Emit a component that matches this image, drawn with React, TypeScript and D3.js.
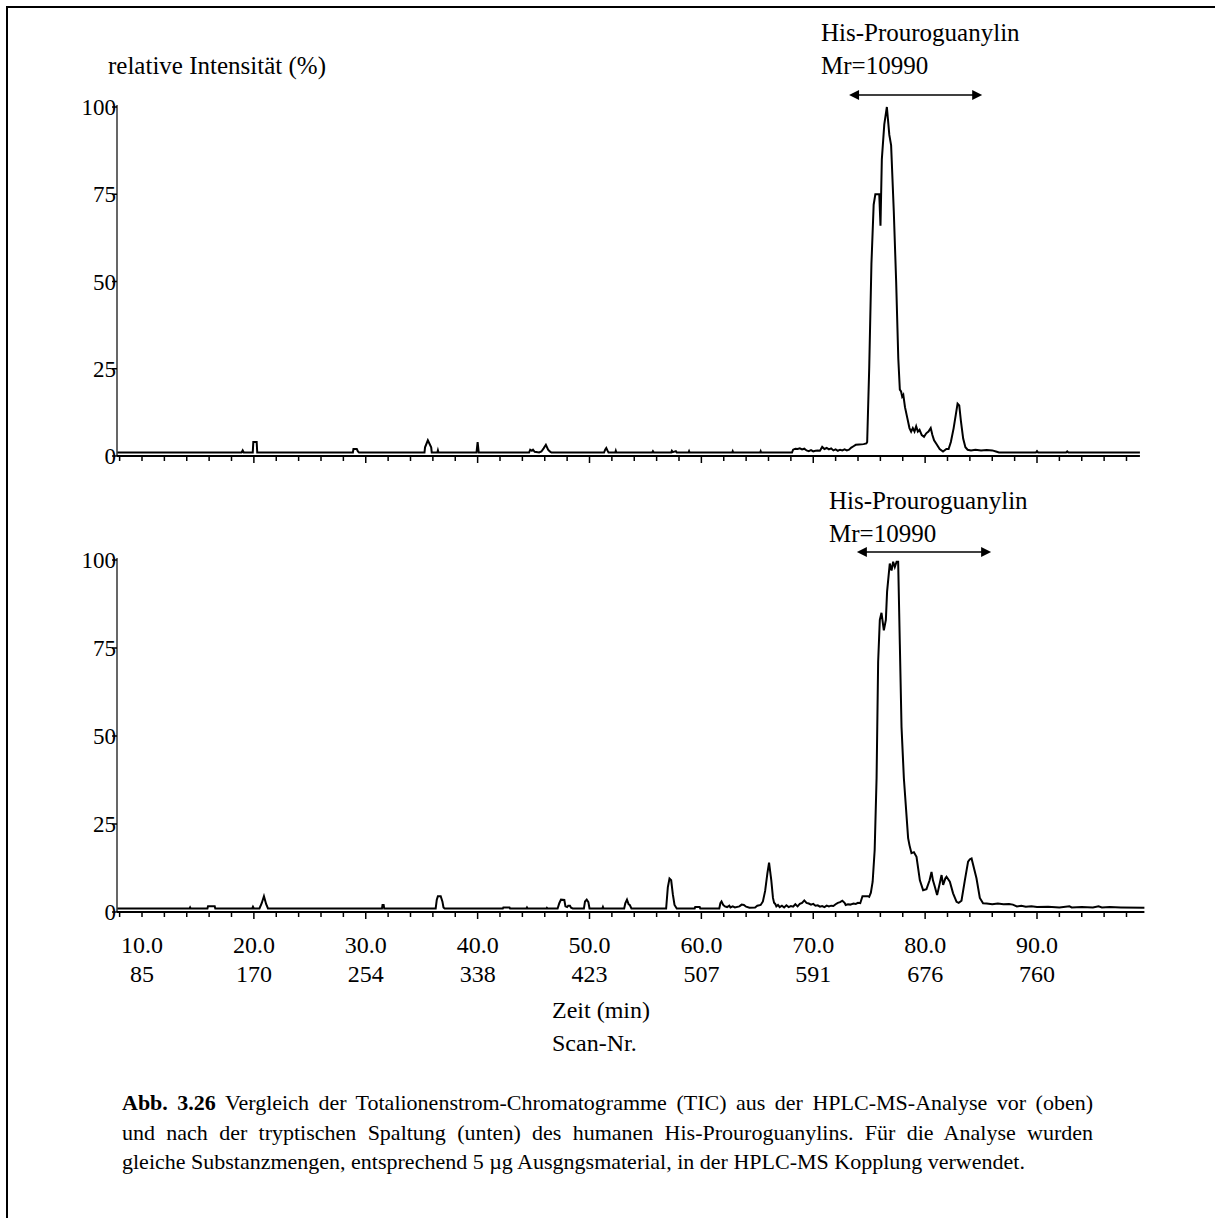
import { useEffect, useRef } from "react";
import * as d3 from "d3";

const W = 1215;
const H = 1218;
const FONT = '"Liberation Serif", "Times New Roman", serif';

// axis labels
const yTicks = [0, 25, 50, 75, 100];
const timeTicks = [10, 20, 30, 40, 50, 60, 70, 80, 90];
const timeLabels = ["10.0", "20.0", "30.0", "40.0", "50.0", "60.0", "70.0", "80.0", "90.0"];
const scanLabels = ["85", "170", "254", "338", "423", "507", "591", "676", "760"];

// TIC before digestion: [time (min), relative intensity (%)]
const topTrace: [number, number][] = [
  [7.8, 1], [18.9, 1], [19.0, 1.6], [19.1, 1], [19.9, 1], [19.95, 4], [20.25, 4], [20.3, 1],
  [28.85, 1], [28.9, 2], [29.2, 2], [29.3, 1.3], [29.4, 1],
  [35.25, 1], [35.3, 2.5], [35.55, 4.5], [35.85, 2.5], [35.9, 1], [36.4, 1], [36.45, 1.6], [36.5, 1],
  [39.9, 1], [40.0, 4], [40.1, 1],
  [44.6, 1], [44.7, 1.8], [44.85, 1.5], [44.95, 1.8], [45.1, 1.2], [45.5, 1], [45.7, 1.3], [45.9, 2.2],
  [46.1, 3.2], [46.3, 1.8], [46.45, 1.3], [46.6, 1],
  [51.3, 1], [51.4, 1.8], [51.5, 2.3], [51.6, 1.6], [51.7, 1], [52.3, 1], [52.35, 1.5], [52.4, 1],
  [55.6, 1], [55.67, 1.4], [55.75, 1], [57.3, 1], [57.36, 1.5], [57.45, 1.1], [57.72, 1.4], [57.8, 1],
  [58.85, 1], [58.9, 1.4], [58.95, 1], [62.75, 1], [62.8, 1.4], [62.85, 1], [65.25, 1], [65.3, 1.4], [65.35, 1],
  [68.1, 1], [68.2, 1.8], [68.4, 2.1], [68.6, 2], [68.8, 2.2], [69.0, 1.9], [69.2, 2.1], [69.4, 1.6],
  [69.6, 1.4], [69.8, 1.7], [70.0, 1.3], [70.2, 1.5], [70.4, 1.6], [70.6, 1.5], [70.8, 2.6], [71.0, 2],
  [71.2, 2.3], [71.4, 1.9], [71.6, 2.2], [71.8, 1.6], [72.0, 1.9], [72.2, 1.5], [72.4, 1.8], [72.6, 1.6],
  [72.8, 1.9], [73.0, 1.6], [73.2, 1.8], [73.4, 2.4], [73.6, 2.8], [73.8, 3.2], [74.1, 3.3], [74.5, 3.4],
  [74.75, 3.6], [74.82, 4], [75.0, 25], [75.2, 55], [75.4, 72], [75.55, 75], [75.9, 75], [76.01, 66],
  [76.13, 85], [76.35, 95], [76.58, 100], [76.8, 92], [76.96, 89], [77.2, 70], [77.41, 50], [77.6, 28],
  [77.74, 19], [77.85, 18.5], [77.95, 17], [78.05, 17.5], [78.2, 14], [78.4, 11], [78.6, 8], [78.75, 7],
  [78.9, 8], [79.05, 7], [79.2, 8.5], [79.35, 7], [79.5, 7.5], [79.7, 6], [79.9, 5.5], [80.1, 6.5],
  [80.3, 7], [80.5, 8], [80.65, 6], [80.8, 4.5], [81.0, 3.5], [81.3, 2], [81.6, 1.3], [81.9, 2],
  [82.1, 2], [82.3, 4], [82.55, 8], [82.75, 12], [82.9, 15], [83.05, 14.5], [83.2, 10], [83.4, 5],
  [83.6, 2.5], [83.8, 1.8], [84.1, 1.6], [84.5, 1.8], [85.0, 1.6], [85.5, 1.7], [86.0, 1.6], [86.4, 1.2],
  [86.6, 1], [89.9, 1], [90.0, 1.4], [90.1, 1], [92.6, 1], [92.7, 1.3], [92.8, 1], [99.2, 1],
];

// TIC after tryptic digestion
const bottomTrace: [number, number][] = [
  [7.8, 1], [14.25, 1], [14.3, 1.3], [14.35, 1], [15.85, 1], [15.9, 1.6], [16.5, 1.6], [16.55, 1],
  [19.85, 1], [19.92, 1.5], [20.0, 1], [20.5, 1], [20.7, 2.5], [20.9, 4.5], [21.1, 2.2], [21.26, 1],
  [31.45, 1], [31.5, 2], [31.6, 2], [31.65, 1],
  [36.25, 1], [36.35, 3.5], [36.45, 4.5], [36.7, 4.5], [36.85, 3], [36.95, 1.3], [37.05, 1],
  [42.25, 1], [42.3, 1.3], [42.85, 1.3], [42.9, 1], [44.35, 1], [44.41, 1.3], [44.47, 1],
  [46.15, 1], [46.19, 1.2], [46.25, 1], [47.15, 1], [47.3, 2.5], [47.45, 3.5], [47.75, 3.4], [47.85, 1.6],
  [48.0, 1.4], [48.1, 1.8], [48.25, 1.8], [48.35, 1.2], [48.5, 1], [49.5, 1], [49.6, 3], [49.75, 3.5],
  [49.9, 2.8], [50.0, 1], [51.15, 1], [51.2, 1.4], [51.25, 1],
  [53.1, 1], [53.2, 2.5], [53.35, 3.5], [53.5, 2.2], [53.6, 2], [53.75, 1],
  [56.85, 1], [57.0, 7], [57.15, 9.5], [57.3, 9], [57.45, 5], [57.6, 2], [57.8, 1],
  [59.4, 1], [59.45, 1.4], [59.85, 1.4], [59.9, 1], [61.6, 1], [61.7, 2.5], [61.8, 3], [61.95, 2],
  [62.1, 1.6], [62.3, 1.4], [62.5, 1.8], [62.6, 1.3], [62.8, 1.6], [63.0, 1.3], [63.4, 1.6], [63.6, 2.1],
  [63.8, 2], [64.0, 1.5], [64.3, 1.2], [64.8, 1.3], [65.0, 1.8], [65.3, 2], [65.5, 3], [65.7, 6],
  [65.9, 11], [66.05, 14], [66.25, 9], [66.4, 4], [66.5, 2.6], [66.6, 2.3], [66.7, 1.6], [66.85, 2],
  [67.0, 1.4], [67.2, 1.8], [67.4, 1.3], [67.6, 1.9], [67.8, 1.4], [68.0, 1.7], [68.2, 1.5], [68.4, 2.2],
  [68.6, 1.6], [68.8, 2.3], [69.0, 2.6], [69.2, 3.3], [69.4, 2.6], [69.6, 2.4], [69.8, 2.1], [70.0, 2.3],
  [70.2, 1.8], [70.4, 1.9], [70.6, 1.5], [70.8, 1.7], [71.0, 1.4], [71.2, 1.8], [71.4, 1.6], [71.6, 1.8],
  [71.8, 1.7], [72.0, 2.2], [72.2, 2.6], [72.4, 2.8], [72.6, 3.2], [72.8, 2.6], [72.9, 2], [73.1, 2.2],
  [73.3, 2.1], [73.6, 2.4], [73.8, 2.3], [74.0, 2.6], [74.2, 2.5], [74.4, 4.5], [74.9, 4.5], [75.0, 4.3],
  [75.15, 5.5], [75.31, 8.6], [75.49, 17.6], [75.66, 38], [75.8, 71], [75.95, 83], [76.1, 85], [76.31, 80],
  [76.49, 83], [76.6, 91], [76.84, 99], [77.0, 97], [77.14, 99.5], [77.29, 98], [77.45, 99.5], [77.59, 99.5],
  [77.74, 76], [77.89, 52.6], [78.1, 38], [78.48, 21], [78.6, 19], [78.78, 16.7], [79.0, 17], [79.23, 15.7],
  [79.53, 9], [79.82, 6.2], [80.12, 6.5], [80.4, 9], [80.57, 11.4], [80.7, 9], [80.87, 7.2], [81.07, 4.8],
  [81.3, 8], [81.47, 10.5], [81.61, 7.7], [81.8, 9.5], [81.91, 10], [82.21, 8.6], [82.5, 5.3], [82.81, 2.9],
  [83.0, 2.6], [83.25, 3.2], [83.55, 9], [83.84, 14.3], [84.0, 15], [84.15, 15.2], [84.59, 9.6], [84.89, 4],
  [85.18, 2.5], [85.5, 2.4], [86.0, 2.2], [86.5, 2.4], [87.0, 2.2], [87.5, 2.3], [87.84, 2.1], [88.2, 1.6],
  [88.6, 1.8], [89.0, 1.5], [89.5, 1.6], [90.0, 1.4], [91.0, 1.5], [92.0, 1.3], [92.9, 1.6], [93.1, 1.3],
  [94.0, 1.4], [95.0, 1.3], [95.5, 1.6], [95.8, 1.3], [96.5, 1.4], [97.5, 1.3], [99.6, 1.2],
];

// retention window of His-Prouroguanylin (min)
const peakRangeTop = [73.2, 85.1];
const peakRangeBottom = [73.9, 85.9];

const captionLines = [
  { bold: "Abb. 3.26", text: " Vergleich der Totalionenstrom-Chromatogramme (TIC) aus der HPLC-MS-Analyse vor (oben)", justify: true },
  { bold: "", text: "und nach der tryptischen Spaltung (unten) des humanen His-Prouroguanylins. Für die Analyse wurden", justify: true },
  { bold: "", text: "gleiche Substanzmengen, entsprechend 5 µg Ausgngsmaterial, in der HPLC-MS Kopplung verwendet.", justify: false },
];

const x = d3.scaleLinear().domain([10, 90]).range([142, 1037]);
const minorTicks = d3.range(8, 99, 2);

const panels = [
  { trace: topTrace, y: d3.scaleLinear().domain([0, 100]).range([456, 107]), end: 99.2, range: peakRangeTop, labelX: 821, labelY: 41, arrowY: 95 },
  { trace: bottomTrace, y: d3.scaleLinear().domain([0, 100]).range([912, 560]), end: 99.6, range: peakRangeBottom, labelX: 829, labelY: 509, arrowY: 552 },
];

function Panel({ p }) {
  const line = d3.line<[number, number]>().x(d => x(d[0])).y(d => p.y(d[1]));
  const y0 = p.y(0);
  const x0 = 117;
  const xa = x(p.range[0]);
  const xb = x(p.range[1]);
  return (
    <g>
      <line x1={x0} x2={x0} y1={p.y(100) - 2} y2={y0} stroke="#000" strokeWidth={1.2} />
      {yTicks.map(t => (
        <g key={t}>
          <line x1={x0 - 5} x2={x0} y1={p.y(t)} y2={p.y(t)} stroke="#000" strokeWidth={1.5} />
          <text x={x0 - 1} y={p.y(t)} dy="0.35em" textAnchor="end" fontSize={23}>{t}</text>
        </g>
      ))}
      <line x1={x0} x2={x(p.end)} y1={y0} y2={y0} stroke="#000" strokeWidth={1.8} />
      {minorTicks.map(t => (
        <line key={t} x1={x(t)} x2={x(t)} y1={y0} y2={y0 + (t % 10 === 0 && t > 10 ? 7 : 5)} stroke="#000" strokeWidth={1.5} />
      ))}
      <path d={line(p.trace) || ""} fill="none" stroke="#000" strokeWidth={2} strokeLinejoin="miter" />
      <text x={p.labelX} y={p.labelY} fontSize={25}>His-Prouroguanylin</text>
      <text x={p.labelX} y={p.labelY + 33} fontSize={25}>Mr=10990</text>
      <line x1={xa + 8} x2={xb - 8} y1={p.arrowY} y2={p.arrowY} stroke="#000" strokeWidth={1.5} />
      <path d={`M${xa},${p.arrowY}L${xa + 10},${p.arrowY - 5}L${xa + 10},${p.arrowY + 5}Z`} fill="#000" />
      <path d={`M${xb},${p.arrowY}L${xb - 10},${p.arrowY - 5}L${xb - 10},${p.arrowY + 5}Z`} fill="#000" />
    </g>
  );
}

export default function App() {
  const capRef = useRef<SVGGElement>(null);

  useEffect(() => {
    const target = 1093 - 122;
    d3.select(capRef.current).selectAll<SVGTextElement, unknown>("text").each(function () {
      const el = this;
      if (el.getAttribute("data-justify") !== "1") return;
      const natural = el.getComputedTextLength();
      const gaps = (el.textContent || "").split(" ").length - 1;
      if (gaps > 0 && natural < target) {
        d3.select(el).attr("word-spacing", (target - natural) / gaps);
      }
    });
  }, []);

  return (
    <svg width={W} height={H} style={{ position: "absolute", left: 0, top: 0, background: "#fff" }} fontFamily={FONT}>
      <rect width={W} height={H} fill="#fff" />
      <line x1={6} x2={W} y1={7} y2={7} stroke="#000" strokeWidth={2} />
      <line x1={7} x2={7} y1={6} y2={H} stroke="#000" strokeWidth={2} />

      <text x={108} y={74} fontSize={25}>relative Intensität (%)</text>

      {panels.map((p, i) => <Panel key={i} p={p} />)}

      {timeTicks.map((t, i) => (
        <g key={t}>
          <text x={x(t)} y={953} textAnchor="middle" fontSize={24}>{timeLabels[i]}</text>
          <text x={x(t)} y={982} textAnchor="middle" fontSize={24}>{scanLabels[i]}</text>
        </g>
      ))}
      <text x={552} y={1018} fontSize={24}>Zeit (min)</text>
      <text x={552} y={1051} fontSize={24}>Scan-Nr.</text>

      <g ref={capRef}>
        {captionLines.map((l, i) => (
          <text key={i} x={122} y={1110 + i * 29.5} fontSize={22} data-justify={l.justify ? "1" : "0"}>
            {l.bold && <tspan fontWeight="bold">{l.bold}</tspan>}
            {l.text}
          </text>
        ))}
      </g>
    </svg>
  );
}
